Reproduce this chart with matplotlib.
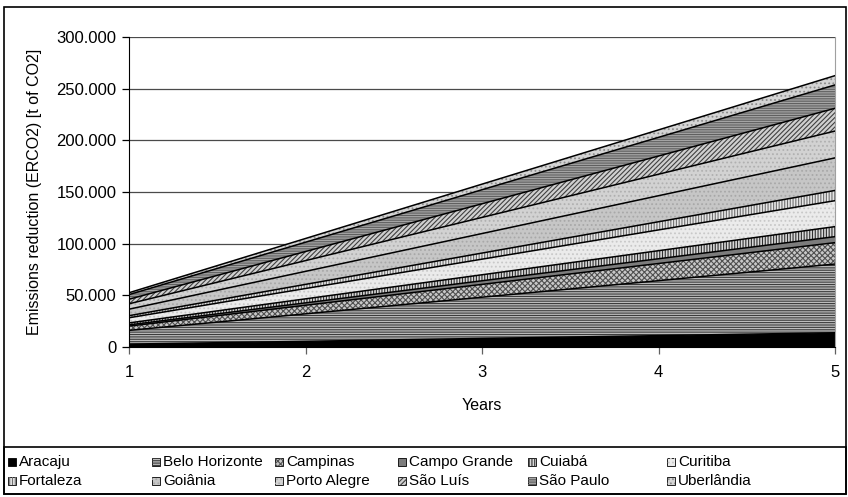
import numpy as np
import matplotlib
matplotlib.use("Agg")
import matplotlib.pyplot as plt
from matplotlib.patches import Rectangle
from matplotlib.ticker import FuncFormatter

plt.rcParams['font.family'] = ['Liberation Sans', 'DejaVu Sans']
plt.rcParams['hatch.linewidth'] = 0.8

# Cumulative emissions reduction per city, thousand t CO2, years 1..5
years = [1, 2, 3, 4, 5]
aracaju = [2.8, 5.5, 8.3, 11.0, 13.8]
belo_horizonte = [13.3, 26.6, 39.9, 53.2, 66.5]
campinas = [4.1, 8.3, 12.4, 16.6, 20.7]
campo_grande = [1.2, 2.3, 3.5, 4.6, 5.8]
cuiaba = [1.9, 3.9, 5.8, 7.8, 9.7]
curitiba = [5.0, 10.0, 15.1, 20.1, 25.1]
fortaleza = [2.0, 4.0, 5.9, 7.9, 9.9]
goiania = [6.3, 12.6, 18.9, 25.2, 31.5]
porto_alegre = [5.2, 10.4, 15.6, 20.8, 26.0]
sao_luis = [4.4, 8.8, 13.2, 17.6, 22.0]
sao_paulo = [4.5, 9.0, 13.6, 18.1, 22.6]
uberlandia = [1.8, 3.6, 5.4, 7.2, 9.0]

cities = ["Aracaju", "Belo Horizonte", "Campinas", "Campo Grande", "Cuiabá",
          "Curitiba", "Fortaleza", "Goiânia", "Porto Alegre", "São Luís",
          "São Paulo", "Uberlândia"]
series = [aracaju, belo_horizonte, campinas, campo_grande, cuiaba, curitiba,
          fortaleza, goiania, porto_alegre, sao_luis, sao_paulo, uberlandia]

# (face colour, hatch colour, hatch) per city
styles = [
    ("#000000", None, None),
    ("#bcbcbc", "#3c3c3c", "-------"),
    ("#c8c8c8", "#505050", "xxxxxx"),
    ("#7c7c7c", None, None),
    ("#d8d8d8", "#303030", "||||||"),
    ("#ebebeb", "#c8c8c8", "...."),
    ("#e6e6e6", "#707070", "||||||"),
    ("#c6c6c6", "#a8a8a8", "...."),
    ("#d2d2d2", "#b0b0b0", "...."),
    ("#d0d0d0", "#404040", "///////"),
    ("#a4a4a4", "#606060", "-------"),
    ("#d4d4d4", "#8c8c8c", "...."),
]

W, H = 848, 497
fig = plt.figure(figsize=(W / 100, H / 100), dpi=100)
ax = fig.add_axes([129 / W, 1 - 347 / H, (835 - 129) / W, (347 - 37) / H])

x = np.array(years, dtype=float)
base = np.zeros_like(x)
for vals, (fc, hc, hatch) in zip(series, styles):
    top = base + np.array(vals) * 1000
    ax.fill_between(x, base, top, facecolor=fc, edgecolor="none", linewidth=0, zorder=2)
    if hatch:
        ax.fill_between(x, base, top, facecolor="none", edgecolor=hc, hatch=hatch,
                        linewidth=0, zorder=2.1)
    ax.plot(x, top, color="black", linewidth=1.1, zorder=3)
    base = top

ax.set_xlim(1, 5)
ax.set_ylim(0, 300000)
ax.set_xticks(years)
ax.set_yticks(np.arange(0, 300001, 50000))
ax.yaxis.set_major_formatter(FuncFormatter(lambda v, p: f"{int(v):,}".replace(",", ".")))
ax.grid(axis="y", color="#4a4a4a", linewidth=0.9, zorder=1)
ax.set_axisbelow(True)

ax.spines["top"].set_visible(False)
ax.spines["right"].set_color("#a0a0a0")
ax.spines["left"].set_color("black")
ax.spines["bottom"].set_color("black")
ax.tick_params(axis="y", direction="out", length=5, width=0.9, labelsize=12, pad=4)
ax.tick_params(axis="x", direction="out", length=5, width=0.9, labelsize=12, pad=8,
               color="#606060")

ax.set_xlabel("Years", fontsize=11.5, labelpad=13)
ax.set_ylabel("Emissions reduction (ERCO2) [t of CO2]", fontsize=11.5, labelpad=10)

# Outer chart frame and legend box
fig.patches.append(Rectangle((4 / W, 1 - 494 / H), 842 / W, 487 / H, transform=fig.transFigure,
                             fill=False, edgecolor="black", linewidth=1.2))
fig.patches.append(Rectangle((4 / W, 1 - 494 / H), 842 / W, 47 / H, transform=fig.transFigure,
                             fill=False, edgecolor="black", linewidth=1.2))

col_x = [8, 152, 275, 398, 528, 667]
row_y = [462, 481]
for i, (name, (fc, hc, hatch)) in enumerate(zip(cities, styles)):
    r, c = divmod(i, 6)
    cx, cy = col_x[c], row_y[r]
    fig.patches.append(Rectangle((cx / W, 1 - (cy + 4) / H), 8 / W, 8 / H,
                                 transform=fig.transFigure, facecolor=fc,
                                 edgecolor="black", linewidth=0.6))
    if hatch:
        fig.patches.append(Rectangle((cx / W, 1 - (cy + 4) / H), 8 / W, 8 / H,
                                     transform=fig.transFigure, facecolor="none",
                                     edgecolor=hc, hatch=hatch, linewidth=0))
    fig.text((cx + 11) / W, 1 - cy / H, name, fontsize=11, va="center", ha="left")

fig.savefig("out.png", dpi=100)
